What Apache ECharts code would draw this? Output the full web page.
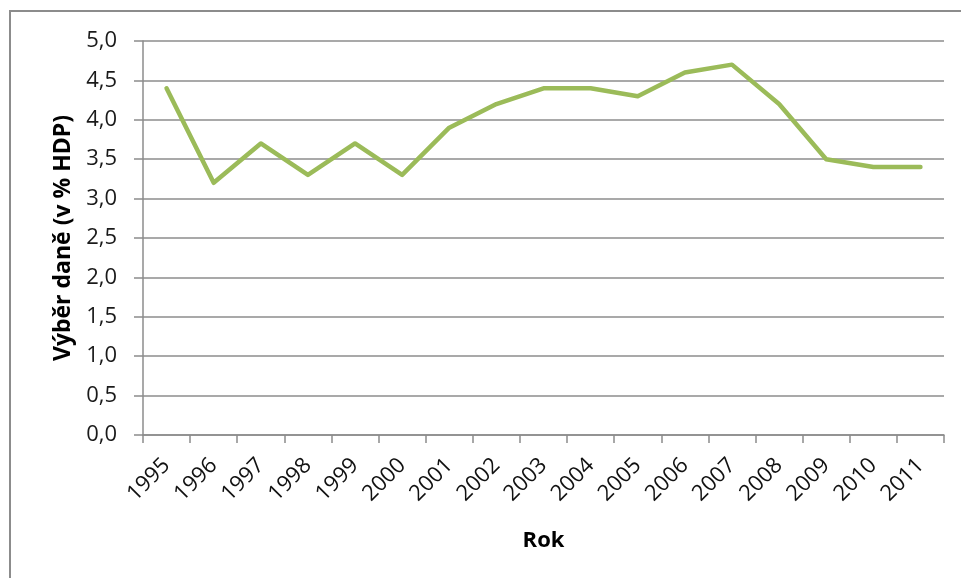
<!DOCTYPE html>
<html>
<head>
<meta charset="utf-8">
<script src="https://cdn.jsdelivr.net/npm/echarts@6/dist/echarts.min.js"></script>
<style>
  html, body { margin: 0; padding: 0; background: #fff; }
  #chart { width: 961px; height: 578px; }
</style>
</head>
<body>
<div id="chart"></div>
<script>
// Výběr daně jako podíl HDP, 1995–2011
const years = ['1995','1996','1997','1998','1999','2000','2001','2002','2003','2004','2005','2006','2007','2008','2009','2010','2011'];
const taxShare = [4.4, 3.2, 3.7, 3.3, 3.7, 3.3, 3.9, 4.2, 4.4, 4.4, 4.3, 4.6, 4.7, 4.2, 3.5, 3.4, 3.4];
const yTicks = { min: 0, max: 5, step: 0.5 };

const FONT = '"Open Sans", "DejaVu Sans", sans-serif';
const chart = echarts.init(document.getElementById('chart'), null, { renderer: 'canvas' });

chart.setOption({
  animation: false,
  backgroundColor: '#ffffff',
  graphic: [{
    type: 'rect',
    shape: { x: 10, y: 11, width: 1000, height: 700 },
    style: { fill: 'none', stroke: '#8c8c8c', lineWidth: 2 },
    silent: true
  }],
  grid: { left: 143, right: 17, top: 41, bottom: 143, containLabel: false },
  xAxis: {
    type: 'category',
    data: years,
    boundaryGap: true,
    name: 'Rok',
    nameLocation: 'middle',
    nameGap: 95,
    nameTextStyle: { fontFamily: FONT, fontSize: 22, fontWeight: 'bold', color: '#000' },
    axisLine: { lineStyle: { color: '#8c8c8c', width: 1.5 } },
    axisTick: { show: true, length: 8, alignWithLabel: false, lineStyle: { color: '#8c8c8c', width: 1.5 } },
    axisLabel: { rotate: 45, fontFamily: FONT, fontSize: 22, color: '#111', margin: 27, interval: 0 },
    splitLine: { show: false }
  },
  yAxis: {
    type: 'value',
    min: yTicks.min,
    max: yTicks.max,
    interval: yTicks.step,
    name: 'Výběr daně (v % HDP)',
    nameLocation: 'middle',
    nameGap: 68,
    nameRotate: 90,
    nameTextStyle: { fontFamily: FONT, fontSize: 23, fontWeight: 'bold', color: '#000' },
    axisLine: { show: true, lineStyle: { color: '#8c8c8c', width: 1.5 } },
    axisTick: { show: true, length: 9, lineStyle: { color: '#8c8c8c', width: 1.5 } },
    axisLabel: {
      fontFamily: FONT, fontSize: 22, color: '#1a1a1a', margin: 26,
      formatter: v => v.toFixed(1).replace('.', ',')
    },
    splitLine: { show: true, lineStyle: { color: '#8c8c8c', width: 1.5 } }
  },
  series: [{
    type: 'line',
    data: taxShare,
    symbol: 'none',
    lineStyle: { color: '#9bbb59', width: 4.5, cap: 'round', join: 'round' },
    itemStyle: { color: '#9bbb59' }
  }]
});
</script>
</body>
</html>
